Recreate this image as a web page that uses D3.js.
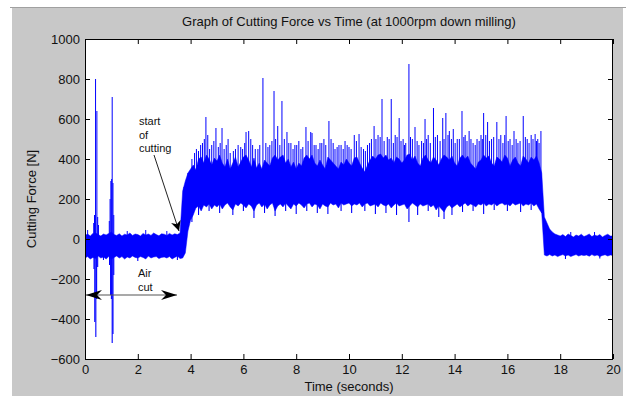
<!DOCTYPE html>
<html>
<head>
<meta charset="utf-8">
<script src="https://cdn.jsdelivr.net/npm/d3@7/dist/d3.min.js"></script>
<style>
  body { margin: 0; background: #fff; }
  text { font-family: Arial, "Liberation Sans", sans-serif; fill: #111; }
</style>
</head>
<body>
<div id="chart"></div>
<script>
// envelope of the force signal, one value every 0.1 s, row = 1 second
const sampleTimes = d3.range(0, 201).map(i => i / 10);
const upperForce = [
  18, 25, 15, 28, 30, 22, 15, 25, 20, 28,
  35, 22, 18, 26, 15, 24, 20, 30, 18, 25,
  22, 15, 28, 20, 25, 18, 30, 22, 16, 26,
  24, 18, 28, 20, 26, 22, 30, 240, 290, 330,
  350, 370, 345, 400, 410, 380, 420, 400, 370, 405,
  390, 420, 380, 360, 400, 350, 380, 410, 360, 385,
  410, 420, 395, 360, 405, 355, 380, 350, 395, 380,
  365, 405, 420, 395, 410, 420, 380, 400, 360, 385,
  350, 380, 365, 405, 420, 400, 420, 380, 365, 395,
  370, 350, 410, 395, 380, 365, 350, 385, 370, 400,
  380, 365, 405, 410, 380, 355, 335, 370, 395, 415,
  400, 420, 425, 405, 420, 395, 405, 380, 410, 400,
  380, 395, 420, 425, 395, 415, 380, 365, 405, 420,
  395, 380, 410, 395, 370, 400, 420, 410, 395, 415,
  380, 365, 405, 420, 400, 415, 380, 365, 350, 385,
  395, 420, 405, 415, 380, 365, 410, 400, 385, 420,
  405, 365, 395, 410, 380, 365, 415, 400, 380, 410,
  395, 415, 380, 330, 110, 80, 50, 35, 25, 20,
  15, 22, 12, 25, 18, 10, 20, 15, 24, 12,
  18, 25, 12, 20, 15, 22, 10, 18, 24, 15,
  15];
const lowerForce = [
  -95, -88, -100, -92, -98, -85, -95, -90, -100, -88,
  -100, -92, -85, -95, -88, -100, -90, -95, -85, -92,
  -95, -88, -92, -100, -85, -95, -90, -88, -98, -92,
  -90, -95, -88, -100, -92, -85, -98, -95, -70, 40,
  95, 120, 155, 165, 140, 170, 160, 175, 150, 170,
  160, 175, 150, 170, 180, 160, 145, 175, 165, 180,
  170, 155, 175, 165, 140, 170, 180, 160, 175, 150,
  170, 180, 140, 165, 175, 160, 180, 165, 150, 175,
  165, 180, 170, 155, 175, 180, 160, 175, 170, 150,
  175, 165, 160, 180, 170, 175, 155, 180, 170, 175,
  180, 165, 175, 170, 180, 160, 175, 180, 165, 170,
  175, 160, 180, 170, 165, 175, 155, 170, 180, 165,
  170, 175, 150, 165, 180, 170, 160, 175, 165, 170,
  175, 160, 170, 145, 165, 150, 135, 160, 170, 155,
  165, 175, 160, 170, 180, 165, 175, 170, 160, 175,
  170, 180, 165, 175, 170, 180, 165, 175, 180, 170,
  175, 165, 180, 170, 175, 180, 165, 175, 170, 180,
  165, 175, 150, 130, -80, -85, -78, -85, -80, -88,
  -82, -78, -85, -80, -88, -82, -78, -85, -80, -83,
  -80, -86, -78, -84, -80, -88, -82, -79, -85, -80,
  -82];

// upward peaks: times (s) and forces (N)
const peakTimes = [0.33, 0.36, 0.40, 0.45, 0.48, 0.51, 0.92, 0.95, 0.98, 1.01, 1.03, 1.06, 1.09, 0.1, 1.6, 2.3, 3.1, 18.4, 19.3,
  3.75, 3.9, 4.05, 4.3, 4.45, 4.58, 4.65, 4.8, 4.96, 5.05, 5.19, 5.35, 5.5, 5.7, 5.9, 6.1, 6.2, 6.35, 6.55, 6.74,
  6.85, 7.0, 7.16, 7.3, 7.46, 7.55, 7.65, 7.8, 7.95, 8.1, 8.25, 8.37, 8.55, 8.6, 8.75, 8.9, 9.05, 9.24, 9.4, 9.55,
  9.7, 9.85, 10.0, 10.2, 10.38, 10.55, 10.7, 10.85, 10.95, 11.1, 11.25, 11.45, 11.6, 11.75, 11.9, 12.05, 12.15, 12.27,
  12.4, 12.5, 12.65, 12.75, 12.88, 13.0, 13.2, 13.35, 13.55, 13.67, 13.8, 13.95, 14.1, 14.28, 14.4, 14.55, 14.7,
  14.85, 15.0, 15.1, 15.25, 15.4, 15.6, 15.75, 15.95, 16.1, 16.25, 16.4, 16.6, 16.75, 16.9, 17.05, 17.15, 17.27,
  4.15, 4.22, 4.38, 4.52, 4.72, 4.88, 5.12, 5.27, 5.42, 5.62, 5.8, 5.97, 6.05, 6.28, 6.45, 6.62, 6.93, 7.08, 7.22,
  7.38, 7.72, 7.88, 8.02, 8.18, 8.45, 8.68, 8.83, 8.97, 9.12, 9.32, 9.47, 9.62, 9.78, 9.93, 10.08, 10.28, 10.46,
  10.62, 10.78, 11.02, 11.18, 11.33, 11.52, 11.68, 11.82, 11.97, 12.1, 12.33, 12.58, 12.82, 12.94, 13.08, 13.27,
  13.45, 13.6, 13.75, 13.88, 14.02, 14.18, 14.35, 14.47, 14.62, 14.78, 14.93, 15.05, 15.18, 15.32, 15.48, 15.68,
  15.83, 15.9, 16.03, 16.18, 16.33, 16.48, 16.68, 16.82, 16.97, 17.1, 17.2];
const peakForces = [80, 120, 800, 640, 110, 70, 90, 200, 290, 300, 710, 280, 120, 45, 40, 45, 40, 35, 35,
  260, 330, 400, 440, 480, 610, 520, 470, 555, 460, 555, 470, 430, 450, 460, 535, 540, 470, 450, 805,
  480, 470, 740, 565, 690, 500, 535, 480, 470, 490, 460, 560, 535, 530, 470, 480, 500, 590, 480, 460,
  470, 490, 460, 520, 525, 450, 470, 500, 565, 520, 700, 510, 700, 520, 605, 500, 480, 875,
  500, 560, 470, 490, 600, 520, 655, 520, 605, 630, 540, 550, 500, 640, 520, 540, 480,
  500, 520, 630, 585, 500, 585, 520, 615, 500, 540, 480, 615, 500, 520, 525, 500, 540,
  430, 450, 470, 500, 450, 490, 480, 450, 500, 440, 470, 450, 480, 500, 450, 470, 460, 490, 500,
  470, 480, 450, 470, 450, 490, 470, 450, 480, 470, 500, 450, 470, 450, 470, 450, 490, 460,
  440, 480, 500, 510, 490, 500, 480, 510, 490, 470, 510, 490, 480, 500, 480, 510,
  490, 500, 520, 500, 480, 500, 510, 490, 500, 470, 490, 500, 520, 490, 510, 500,
  480, 520, 490, 470, 500, 490, 510, 480, 500, 490, 480];

// downward dips: times (s) and forces (N)
const dipTimes = [0.34, 0.37, 0.41, 0.44, 0.48, 0.93, 0.97, 1.00, 1.03, 1.06, 1.09, 0.7, 2.0, 3.5, 18.2, 19.5,
  4.05, 4.3, 4.7, 5.1, 5.6, 6.0, 6.4, 6.8, 7.2, 7.6, 8.0, 8.4, 8.8, 9.2, 9.7, 10.1, 10.6, 11.0, 11.4, 11.8,
  12.27, 12.6, 13.0, 13.4, 13.6, 13.9, 14.3, 14.7, 15.1, 15.5, 16.0, 16.5, 16.9, 17.3];
const dipForces = [-150, -415, -490, -300, -140, -130, -280, -300, -520, -475, -180, -105, -110, -105, -100, -98,
  85, 120, 140, 130, 120, 140, 105, 130, 115, 140, 125, 140, 130, 125, 140, 130, 140, 125, 130, 120,
  85, 120, 140, 110, 100, 120, 135, 140, 125, 145, 140, 135, 145, 130];

const xTicks = [0, 2, 4, 6, 8, 10, 12, 14, 16, 18, 20];
const yTicks = [-600, -400, -200, 0, 200, 400, 600, 800, 1000];

const W = 626, H = 396;
const plot = { left: 85, right: 613, top: 39, bottom: 359 };

const svg = d3.select('#chart').append('svg')
  .attr('width', W)
  .attr('height', H);

// figure background
svg.append('rect').attr('x', 0).attr('y', 0).attr('width', W).attr('height', H).attr('fill', '#fff');
svg.append('rect').attr('x', 12).attr('y', 8).attr('width', 611).attr('height', H - 8).attr('fill', '#c8c8c8');
svg.append('line').attr('x1', 10).attr('x2', W).attr('y1', 7.5).attr('y2', 7.5)
  .attr('stroke', '#a0a0a0').attr('stroke-width', 1);

// plot area
svg.append('rect')
  .attr('x', plot.left).attr('y', plot.top)
  .attr('width', plot.right - plot.left).attr('height', plot.bottom - plot.top)
  .attr('fill', '#fff');

const xScale = d3.scaleLinear().domain([0, 20]).range([plot.left, plot.right]);
const yScale = d3.scaleLinear().domain([-600, 1000]).range([plot.bottom, plot.top]);

svg.append('clipPath').attr('id', 'clip')
  .append('rect')
  .attr('x', plot.left).attr('y', plot.top)
  .attr('width', plot.right - plot.left).attr('height', plot.bottom - plot.top);

const signal = svg.append('g').attr('clip-path', 'url(#clip)');

const envelope = sampleTimes.map((t, i) => ({ t: t, hi: upperForce[i], lo: lowerForce[i] }));
const area = d3.area()
  .x(d => xScale(d.t))
  .y0(d => yScale(d.lo))
  .y1(d => yScale(d.hi));

signal.append('path')
  .datum(envelope)
  .attr('d', area)
  .attr('fill', '#0000ff')
  .attr('stroke', '#0000ff')
  .attr('stroke-width', 0.5);

// middle of the band, used as the base of each peak/dip line
const midAt = d3.scaleLinear().domain(sampleTimes).range(sampleTimes.map((t, i) => (upperForce[i] + lowerForce[i]) / 2));

signal.selectAll('line.peak')
  .data(peakTimes.map((t, i) => ({ t: t, v: peakForces[i] })))
  .enter().append('line')
  .attr('class', 'peak')
  .attr('x1', d => xScale(d.t)).attr('x2', d => xScale(d.t))
  .attr('y1', d => yScale(midAt(d.t))).attr('y2', d => yScale(d.v))
  .attr('stroke', '#0000ff').attr('stroke-width', 1);

signal.selectAll('line.dip')
  .data(dipTimes.map((t, i) => ({ t: t, v: dipForces[i] })))
  .enter().append('line')
  .attr('class', 'dip')
  .attr('x1', d => xScale(d.t)).attr('x2', d => xScale(d.t))
  .attr('y1', d => yScale(midAt(d.t))).attr('y2', d => yScale(d.v))
  .attr('stroke', '#0000ff').attr('stroke-width', 1.1);

// axes, ticks pointing inward like matlab
const xAxis = svg.append('g')
  .attr('transform', `translate(0, ${plot.bottom})`)
  .call(d3.axisBottom(xScale).tickValues(xTicks).tickSizeInner(-5).tickSizeOuter(0).tickPadding(6));
const xAxisTop = svg.append('g')
  .attr('transform', `translate(0, ${plot.top})`)
  .call(d3.axisTop(xScale).tickValues(xTicks).tickSizeInner(-5).tickSizeOuter(0).tickFormat(''));
const yAxis = svg.append('g')
  .attr('transform', `translate(${plot.left}, 0)`)
  .call(d3.axisLeft(yScale).tickValues(yTicks).tickFormat(d3.format('d')).tickSizeInner(-5).tickSizeOuter(0).tickPadding(5));
const yAxisRight = svg.append('g')
  .attr('transform', `translate(${plot.right}, 0)`)
  .call(d3.axisRight(yScale).tickValues(yTicks).tickSizeInner(-5).tickSizeOuter(0).tickFormat(''));

[xAxis, xAxisTop, yAxis, yAxisRight].forEach(a => {
  a.select('.domain').remove();
  a.selectAll('line').attr('stroke', '#000');
  a.selectAll('text').attr('font-size', 13).attr('font-family', 'Arial, "Liberation Sans", sans-serif').attr('fill', '#111');
});

svg.append('rect')
  .attr('x', plot.left + 0.5).attr('y', plot.top + 0.5)
  .attr('width', plot.right - plot.left - 1).attr('height', plot.bottom - plot.top)
  .attr('fill', 'none').attr('stroke', '#000').attr('stroke-width', 1);

// labels
svg.append('text')
  .attr('x', (plot.left + plot.right) / 2).attr('y', 26)
  .attr('text-anchor', 'middle').attr('font-size', 13)
  .text('Graph of Cutting Force vs Time (at 1000rpm down milling)');
svg.append('text')
  .attr('x', (plot.left + plot.right) / 2).attr('y', 391)
  .attr('text-anchor', 'middle').attr('font-size', 13)
  .text('Time (seconds)');
svg.append('text')
  .attr('transform', `translate(36, ${(plot.top + plot.bottom) / 2}) rotate(-90)`)
  .attr('text-anchor', 'middle').attr('font-size', 13)
  .text('Cutting Force [N]');

// annotations
const defs = svg.append('defs');
defs.append('marker')
  .attr('id', 'head')
  .attr('viewBox', '0 0 10 10')
  .attr('refX', 10).attr('refY', 5)
  .attr('markerWidth', 10).attr('markerHeight', 10)
  .attr('markerUnits', 'userSpaceOnUse')
  .attr('orient', 'auto-start-reverse')
  .append('path').attr('d', 'M0,0 L10,5 L0,10 L3,5 Z').attr('fill', '#000');
defs.append('marker')
  .attr('id', 'headWide')
  .attr('viewBox', '0 0 16 10')
  .attr('refX', 16).attr('refY', 5)
  .attr('markerWidth', 16).attr('markerHeight', 10)
  .attr('markerUnits', 'userSpaceOnUse')
  .attr('orient', 'auto-start-reverse')
  .append('path').attr('d', 'M0,0 L16,5 L0,10 L5,5 Z').attr('fill', '#000');

const note = svg.append('text').attr('font-size', 11).attr('x', 139);
['start', 'of', 'cutting'].forEach((s, i) => {
  note.append('tspan').attr('x', 139).attr('y', 125 + i * 13.5).text(s);
});
svg.append('line')
  .attr('x1', 154).attr('y1', 155).attr('x2', 179).attr('y2', 231)
  .attr('stroke', '#222').attr('stroke-width', 1)
  .attr('marker-end', 'url(#head)');

const air = svg.append('text').attr('font-size', 11);
air.append('tspan').attr('x', 138).attr('y', 277).text('Air');
air.append('tspan').attr('x', 138).attr('y', 291).text('cut');
svg.append('line')
  .attr('x1', 86).attr('y1', 295).attr('x2', 177).attr('y2', 295)
  .attr('stroke', '#555').attr('stroke-width', 1.2)
  .attr('marker-start', 'url(#headWide)')
  .attr('marker-end', 'url(#headWide)');
</script>
</body>
</html>
